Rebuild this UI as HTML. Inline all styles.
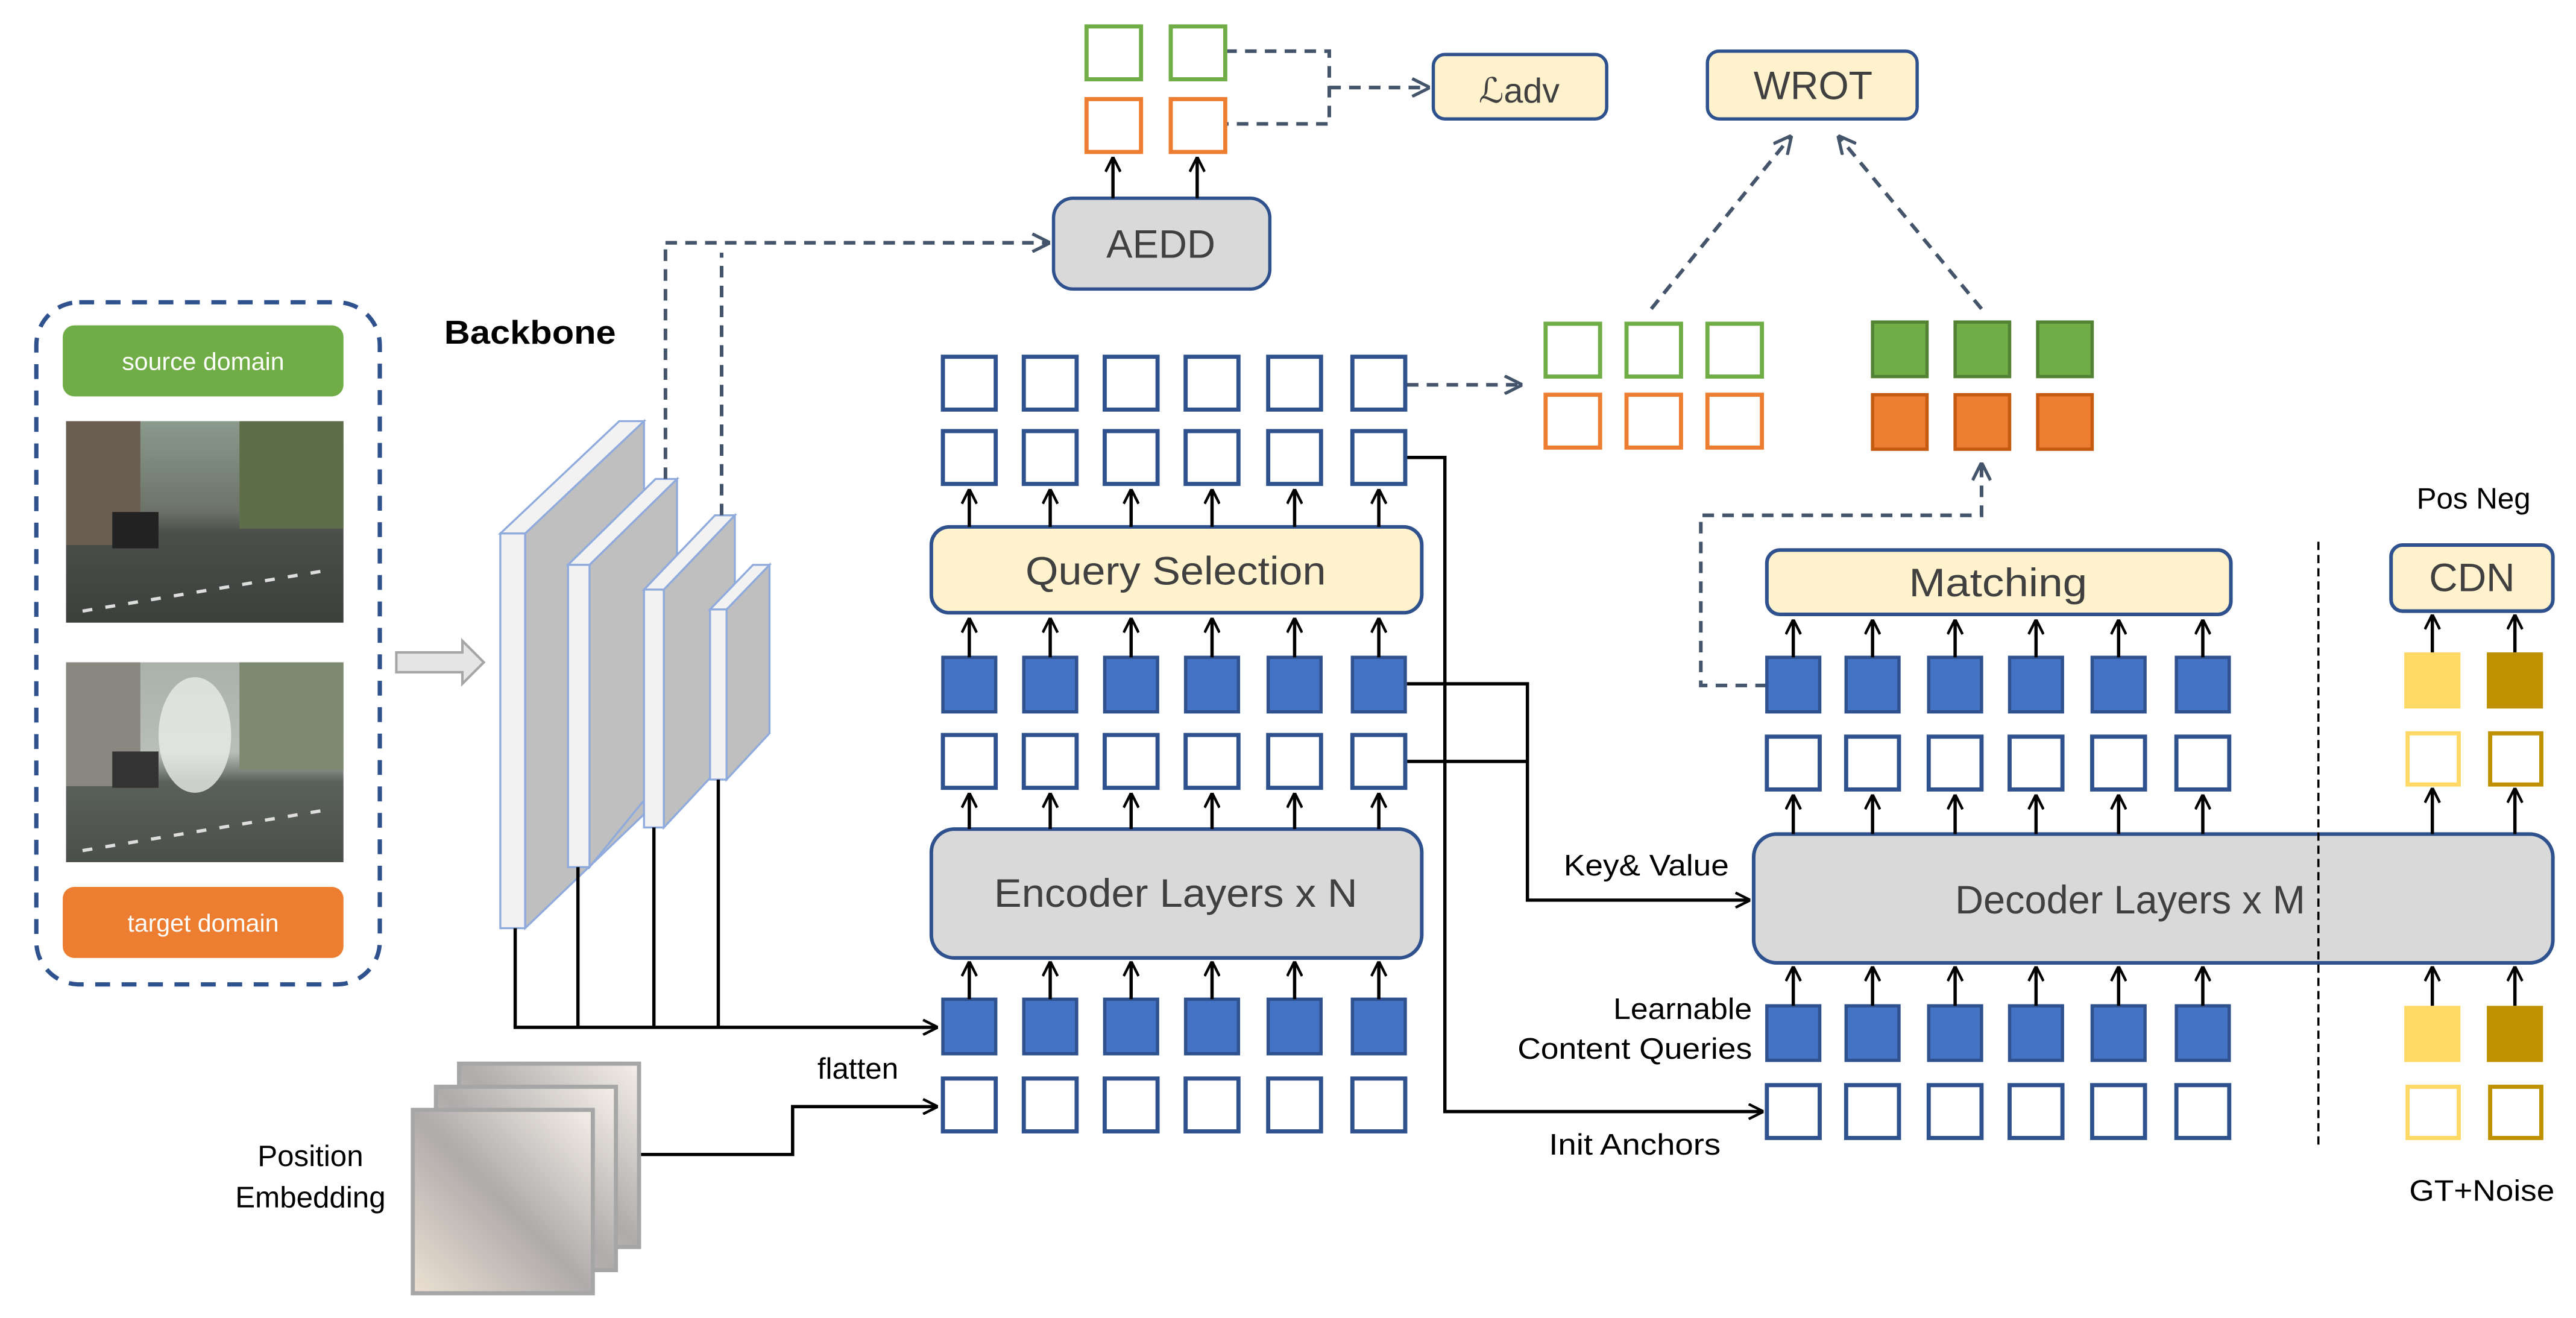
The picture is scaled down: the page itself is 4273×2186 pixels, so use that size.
<!DOCTYPE html>
<html><head><meta charset="utf-8"><style>
html,body{margin:0;padding:0;background:#fff;}
svg{display:block;}
text{font-family:"Liberation Sans","DejaVu Sans",sans-serif;}
</style></head><body>
<svg width="4273" height="2186" viewBox="0 0 1560 798" preserveAspectRatio="none" xmlns="http://www.w3.org/2000/svg">
<defs>
<marker id="a" viewBox="0 0 10 10" refX="10" refY="5" markerWidth="10" markerHeight="10" markerUnits="userSpaceOnUse" orient="auto"><path d="M1,0.5 L10,5 L1,9.5" fill="none" stroke="#000" stroke-width="1.6"/></marker>
<marker id="ad" viewBox="0 0 10 10" refX="10" refY="5" markerWidth="12" markerHeight="12" markerUnits="userSpaceOnUse" orient="auto"><path d="M1,0.5 L10,5 L1,9.5" fill="none" stroke="#44546a" stroke-width="1.6"/></marker>
<linearGradient id="pe" x1="0" y1="1" x2="1" y2="0"><stop offset="0" stop-color="#ece0d2"/><stop offset="0.5" stop-color="#afabab"/><stop offset="1" stop-color="#f4efe8"/></linearGradient>
<linearGradient id="ph1" x1="0" y1="0" x2="0" y2="1"><stop offset="0" stop-color="#8a9a8c"/><stop offset="0.45" stop-color="#6c7268"/><stop offset="0.55" stop-color="#4a4f4a"/><stop offset="1" stop-color="#3c403c"/></linearGradient>
<linearGradient id="ph2" x1="0" y1="0" x2="0" y2="1"><stop offset="0" stop-color="#a9b2aa"/><stop offset="0.45" stop-color="#b8beb8"/><stop offset="0.6" stop-color="#5a605a"/><stop offset="1" stop-color="#4a4f4a"/></linearGradient>
</defs>

<rect x="22" y="183" width="208" height="413" rx="26" fill="none" stroke="#2f528f" stroke-width="2.6" stroke-dasharray="9,7"/>
<rect x="38" y="197" width="170" height="43" rx="7" fill="#70ad47"/>
<text x="123" y="224" font-size="15" fill="#fff" text-anchor="middle">source domain</text>
<rect x="40" y="255" width="168" height="122" fill="url(#ph1)"/>
<rect x="40" y="255" width="45" height="75" fill="#6a5e52"/>
<rect x="145" y="255" width="63" height="65" fill="#5e6e4a"/>
<rect x="68" y="310" width="28" height="22" fill="#222"/>
<path d="M50,370 L200,345" stroke="#ddd" stroke-width="2" stroke-dasharray="6,8"/>
<rect x="40" y="401" width="168" height="121" fill="url(#ph2)"/>
<rect x="40" y="401" width="45" height="75" fill="#8a8680"/>
<rect x="145" y="401" width="63" height="65" fill="#7e8a70"/>
<ellipse cx="118" cy="445" rx="22" ry="35" fill="#e8ece8" opacity="0.8"/>
<rect x="68" y="455" width="28" height="22" fill="#333"/>
<path d="M50,515 L200,490" stroke="#ddd" stroke-width="2" stroke-dasharray="6,8"/>
<rect x="38" y="537" width="170" height="43" rx="7" fill="#ed7d31"/>
<text x="123" y="564" font-size="15" fill="#fff" text-anchor="middle">target domain</text>

<path d="M240,395 L280,395 L280,388 L293,401 L280,414 L280,407 L240,407 Z" fill="#e5e5e5" stroke="#a6a6a6" stroke-width="1.5"/>
<text x="269" y="208" font-size="20" font-weight="bold" fill="#000" textLength="104" lengthAdjust="spacingAndGlyphs">Backbone</text>

<g stroke="#8faadc" stroke-width="1.2">
<polygon points="318,323 390,255 390,493 318,562" fill="#bfbfbf"/>
<polygon points="303,323 375,255 390,255 318,323" fill="#f2f2f2"/>
<rect x="303" y="323" width="15" height="239" fill="#f2f2f2"/>
<polygon points="357,342 410,290 410,460 357,525" fill="#bfbfbf"/>
<polygon points="344,342 397,290 410,290 357,342" fill="#f2f2f2"/>
<rect x="344" y="342" width="13" height="183" fill="#f2f2f2"/>
<polygon points="402,357 445,312 445,455 402,501" fill="#bfbfbf"/>
<polygon points="390,357 433,312 445,312 402,357" fill="#f2f2f2"/>
<rect x="390" y="357" width="12" height="144" fill="#f2f2f2"/>
<polygon points="440,369 466,342 466,444 440,472" fill="#bfbfbf"/>
<polygon points="430,369 456,342 466,342 440,369" fill="#f2f2f2"/>
<rect x="430" y="369" width="10" height="103" fill="#f2f2f2"/>
</g>
<g stroke="#000" stroke-width="2" fill="none">
<path d="M312,562 V622"/><path d="M350,525 V622"/><path d="M396,501 V622"/><path d="M435,472 V622"/>
<path d="M311,622 H568" marker-end="url(#a)"/>
<path d="M388,699 H480 V670 H568" marker-end="url(#a)"/>
<path d="M852,277 H875 V673 H1068" marker-end="url(#a)"/>
<path d="M852,414 H925 V545 H1060" marker-end="url(#a)"/>
<path d="M852,461 H925"/>
</g>
<g stroke="#44546a" stroke-width="2.2" fill="none" stroke-dasharray="7,5">
<path d="M403,290 V147"/><path d="M437,312 V153"/>
<path d="M403,147 H636" marker-end="url(#ad)"/>
<path d="M852,233 H922" marker-end="url(#ad)"/>
<path d="M742,31 H805 V75 H742"/>
<path d="M805,53 H866" marker-end="url(#ad)"/>
<path d="M1000,187 L1085,82" marker-end="url(#ad)"/>
<path d="M1200,187 L1113,82" marker-end="url(#ad)"/>
<path d="M1070,415 H1030 V312 H1200 V280" marker-end="url(#ad)"/>
</g>

<rect x="638" y="120" width="131" height="55" rx="12" fill="#d9d9d9" stroke="#2f528f" stroke-width="2"/>
<text x="703" y="156" font-size="24" fill="#404040" text-anchor="middle" textLength="66" lengthAdjust="spacingAndGlyphs">AEDD</text>
<g stroke="#000" stroke-width="2"><path d="M674,120 V95" marker-end="url(#a)"/><path d="M725,120 V95" marker-end="url(#a)"/></g>
<g fill="none" stroke-width="2.5">
<rect x="658" y="16" width="33" height="32" stroke="#70ad47"/><rect x="709" y="16" width="33" height="32" stroke="#70ad47"/>
<rect x="658" y="60" width="33" height="32" stroke="#ed7d31"/><rect x="709" y="60" width="33" height="32" stroke="#ed7d31"/>
</g>
<rect x="868" y="33" width="105" height="39" rx="7" fill="#fff2cc" stroke="#2f528f" stroke-width="2"/>
<text x="920" y="62" font-size="21" fill="#404040" text-anchor="middle" font-family="Liberation Serif,serif"><tspan font-style="italic">ℒ</tspan>adv</text>
<rect x="1034" y="31" width="127" height="41" rx="7" fill="#fff2cc" stroke="#2f528f" stroke-width="2"/>
<text x="1098" y="60" font-size="24" fill="#404040" text-anchor="middle" textLength="72" lengthAdjust="spacingAndGlyphs">WROT</text>

<g fill="none" stroke-width="2.5">
<rect x="936" y="196" width="33" height="32" stroke="#70ad47"/><rect x="985" y="196" width="33" height="32" stroke="#70ad47"/><rect x="1034" y="196" width="33" height="32" stroke="#70ad47"/>
<rect x="936" y="239" width="33" height="32" stroke="#ed7d31"/><rect x="985" y="239" width="33" height="32" stroke="#ed7d31"/><rect x="1034" y="239" width="33" height="32" stroke="#ed7d31"/>
</g>
<g stroke-width="2">
<rect x="1134" y="195" width="33" height="33" fill="#70ad47" stroke="#548235"/><rect x="1184" y="195" width="33" height="33" fill="#70ad47" stroke="#548235"/><rect x="1234" y="195" width="33" height="33" fill="#70ad47" stroke="#548235"/>
<rect x="1134" y="239" width="33" height="33" fill="#ed7d31" stroke="#c55a11"/><rect x="1184" y="239" width="33" height="33" fill="#ed7d31" stroke="#c55a11"/><rect x="1234" y="239" width="33" height="33" fill="#ed7d31" stroke="#c55a11"/>
</g>

<g fill="#fff" stroke="#2f528f" stroke-width="2.5">
<rect x="571" y="216" width="32" height="32"/><rect x="620" y="216" width="32" height="32"/><rect x="669" y="216" width="32" height="32"/><rect x="718" y="216" width="32" height="32"/><rect x="768" y="216" width="32" height="32"/><rect x="819" y="216" width="32" height="32"/>
<rect x="571" y="261" width="32" height="32"/><rect x="620" y="261" width="32" height="32"/><rect x="669" y="261" width="32" height="32"/><rect x="718" y="261" width="32" height="32"/><rect x="768" y="261" width="32" height="32"/><rect x="819" y="261" width="32" height="32"/>
<rect x="571" y="445" width="32" height="32"/><rect x="620" y="445" width="32" height="32"/><rect x="669" y="445" width="32" height="32"/><rect x="718" y="445" width="32" height="32"/><rect x="768" y="445" width="32" height="32"/><rect x="819" y="445" width="32" height="32"/>
<rect x="571" y="653" width="32" height="32"/><rect x="620" y="653" width="32" height="32"/><rect x="669" y="653" width="32" height="32"/><rect x="718" y="653" width="32" height="32"/><rect x="768" y="653" width="32" height="32"/><rect x="819" y="653" width="32" height="32"/>
</g>
<g fill="#4472c4" stroke="#2f528f" stroke-width="2">
<rect x="571" y="398" width="32" height="33"/><rect x="620" y="398" width="32" height="33"/><rect x="669" y="398" width="32" height="33"/><rect x="718" y="398" width="32" height="33"/><rect x="768" y="398" width="32" height="33"/><rect x="819" y="398" width="32" height="33"/>
<rect x="571" y="605" width="32" height="33"/><rect x="620" y="605" width="32" height="33"/><rect x="669" y="605" width="32" height="33"/><rect x="718" y="605" width="32" height="33"/><rect x="768" y="605" width="32" height="33"/><rect x="819" y="605" width="32" height="33"/>
</g>
<rect x="564" y="319" width="297" height="52" rx="11" fill="#fff2cc" stroke="#2f528f" stroke-width="2.2"/>
<text x="712" y="354" font-size="24" fill="#404040" text-anchor="middle" textLength="182" lengthAdjust="spacingAndGlyphs">Query Selection</text>
<rect x="564" y="502" width="297" height="78" rx="14" fill="#d9d9d9" stroke="#2f528f" stroke-width="2.2"/>
<text x="712" y="549" font-size="24" fill="#404040" text-anchor="middle" textLength="220" lengthAdjust="spacingAndGlyphs">Encoder Layers x N</text>
<g stroke="#000" stroke-width="2">
<path d="M587,319 V296" marker-end="url(#a)"/><path d="M636,319 V296" marker-end="url(#a)"/><path d="M685,319 V296" marker-end="url(#a)"/><path d="M734,319 V296" marker-end="url(#a)"/><path d="M784,319 V296" marker-end="url(#a)"/><path d="M835,319 V296" marker-end="url(#a)"/>
<path d="M587,398 V374" marker-end="url(#a)"/><path d="M636,398 V374" marker-end="url(#a)"/><path d="M685,398 V374" marker-end="url(#a)"/><path d="M734,398 V374" marker-end="url(#a)"/><path d="M784,398 V374" marker-end="url(#a)"/><path d="M835,398 V374" marker-end="url(#a)"/>
<path d="M587,502 V480" marker-end="url(#a)"/><path d="M636,502 V480" marker-end="url(#a)"/><path d="M685,502 V480" marker-end="url(#a)"/><path d="M734,502 V480" marker-end="url(#a)"/><path d="M784,502 V480" marker-end="url(#a)"/><path d="M835,502 V480" marker-end="url(#a)"/>
<path d="M587,605 V582" marker-end="url(#a)"/><path d="M636,605 V582" marker-end="url(#a)"/><path d="M685,605 V582" marker-end="url(#a)"/><path d="M734,605 V582" marker-end="url(#a)"/><path d="M784,605 V582" marker-end="url(#a)"/><path d="M835,605 V582" marker-end="url(#a)"/>
</g>

<g stroke="#a6a6a6" stroke-width="2.5" fill="url(#pe)">
<rect x="278" y="644" width="109" height="111"/>
<rect x="264" y="658" width="109" height="111"/>
<rect x="250" y="672" width="109" height="111"/>
</g>
<text x="188" y="706" font-size="18" fill="#000" text-anchor="middle">Position</text>
<text x="188" y="731" font-size="18" fill="#000" text-anchor="middle">Embedding</text>
<text x="495" y="653" font-size="18" fill="#000">flatten</text>
<text x="947" y="530" font-size="18" fill="#000" textLength="100" lengthAdjust="spacingAndGlyphs">Key&amp; Value</text>
<text x="1061" y="617" font-size="18" fill="#000" text-anchor="end" textLength="84" lengthAdjust="spacingAndGlyphs">Learnable</text>
<text x="1061" y="641" font-size="18" fill="#000" text-anchor="end" textLength="142" lengthAdjust="spacingAndGlyphs">Content Queries</text>
<text x="938" y="699" font-size="18" fill="#000" textLength="104" lengthAdjust="spacingAndGlyphs">Init Anchors</text>

<g fill="#fff" stroke="#2f528f" stroke-width="2.5">
<rect x="1070" y="446" width="32" height="32"/><rect x="1118" y="446" width="32" height="32"/><rect x="1168" y="446" width="32" height="32"/><rect x="1217" y="446" width="32" height="32"/><rect x="1267" y="446" width="32" height="32"/><rect x="1318" y="446" width="32" height="32"/>
<rect x="1070" y="657" width="32" height="32"/><rect x="1118" y="657" width="32" height="32"/><rect x="1168" y="657" width="32" height="32"/><rect x="1217" y="657" width="32" height="32"/><rect x="1267" y="657" width="32" height="32"/><rect x="1318" y="657" width="32" height="32"/>
</g>
<g fill="#4472c4" stroke="#2f528f" stroke-width="2">
<rect x="1070" y="398" width="32" height="33"/><rect x="1118" y="398" width="32" height="33"/><rect x="1168" y="398" width="32" height="33"/><rect x="1217" y="398" width="32" height="33"/><rect x="1267" y="398" width="32" height="33"/><rect x="1318" y="398" width="32" height="33"/>
<rect x="1070" y="609" width="32" height="33"/><rect x="1118" y="609" width="32" height="33"/><rect x="1168" y="609" width="32" height="33"/><rect x="1217" y="609" width="32" height="33"/><rect x="1267" y="609" width="32" height="33"/><rect x="1318" y="609" width="32" height="33"/>
</g>
<rect x="1070" y="333" width="281" height="39" rx="8" fill="#fff2cc" stroke="#2f528f" stroke-width="2.2"/>
<text x="1210" y="361" font-size="24" fill="#404040" text-anchor="middle" textLength="108" lengthAdjust="spacingAndGlyphs">Matching</text>
<rect x="1062" y="505" width="484" height="78" rx="14" fill="#d9d9d9" stroke="#2f528f" stroke-width="2.2"/>
<text x="1290" y="553" font-size="24" fill="#404040" text-anchor="middle" textLength="212" lengthAdjust="spacingAndGlyphs">Decoder Layers x M</text>
<path d="M1404,328 V695" stroke="#000" stroke-width="1.3" stroke-dasharray="5,3"/>
<g stroke="#000" stroke-width="2">
<path d="M1086,398 V375" marker-end="url(#a)"/><path d="M1134,398 V375" marker-end="url(#a)"/><path d="M1184,398 V375" marker-end="url(#a)"/><path d="M1233,398 V375" marker-end="url(#a)"/><path d="M1283,398 V375" marker-end="url(#a)"/><path d="M1334,398 V375" marker-end="url(#a)"/>
<path d="M1086,505 V481" marker-end="url(#a)"/><path d="M1134,505 V481" marker-end="url(#a)"/><path d="M1184,505 V481" marker-end="url(#a)"/><path d="M1233,505 V481" marker-end="url(#a)"/><path d="M1283,505 V481" marker-end="url(#a)"/><path d="M1334,505 V481" marker-end="url(#a)"/>
<path d="M1086,609 V585" marker-end="url(#a)"/><path d="M1134,609 V585" marker-end="url(#a)"/><path d="M1184,609 V585" marker-end="url(#a)"/><path d="M1233,609 V585" marker-end="url(#a)"/><path d="M1283,609 V585" marker-end="url(#a)"/><path d="M1334,609 V585" marker-end="url(#a)"/>
<path d="M1473,395 V372" marker-end="url(#a)"/><path d="M1523,395 V372" marker-end="url(#a)"/>
<path d="M1473,505 V477" marker-end="url(#a)"/><path d="M1523,505 V477" marker-end="url(#a)"/>
<path d="M1473,609 V585" marker-end="url(#a)"/><path d="M1523,609 V585" marker-end="url(#a)"/>
</g>

<text x="1498" y="308" font-size="18" fill="#000" text-anchor="middle">Pos Neg</text>
<rect x="1448" y="330" width="98" height="40" rx="7" fill="#fff2cc" stroke="#2f528f" stroke-width="2.2"/>
<text x="1497" y="358" font-size="24" fill="#404040" text-anchor="middle">CDN</text>
<rect x="1456" y="395" width="34" height="34" fill="#ffd966"/>
<rect x="1506" y="395" width="34" height="34" fill="#bf9000"/>
<rect x="1458" y="444" width="31" height="31" fill="#fff" stroke="#ffd966" stroke-width="2.5"/>
<rect x="1508" y="444" width="31" height="31" fill="#fff" stroke="#bf9000" stroke-width="2.5"/>
<rect x="1456" y="609" width="34" height="34" fill="#ffd966"/>
<rect x="1506" y="609" width="34" height="34" fill="#bf9000"/>
<rect x="1458" y="658" width="31" height="31" fill="#fff" stroke="#ffd966" stroke-width="2.5"/>
<rect x="1508" y="658" width="31" height="31" fill="#fff" stroke="#bf9000" stroke-width="2.5"/>
<text x="1503" y="727" font-size="18" fill="#000" text-anchor="middle" textLength="88" lengthAdjust="spacingAndGlyphs">GT+Noise</text>
</svg>
</body></html>
